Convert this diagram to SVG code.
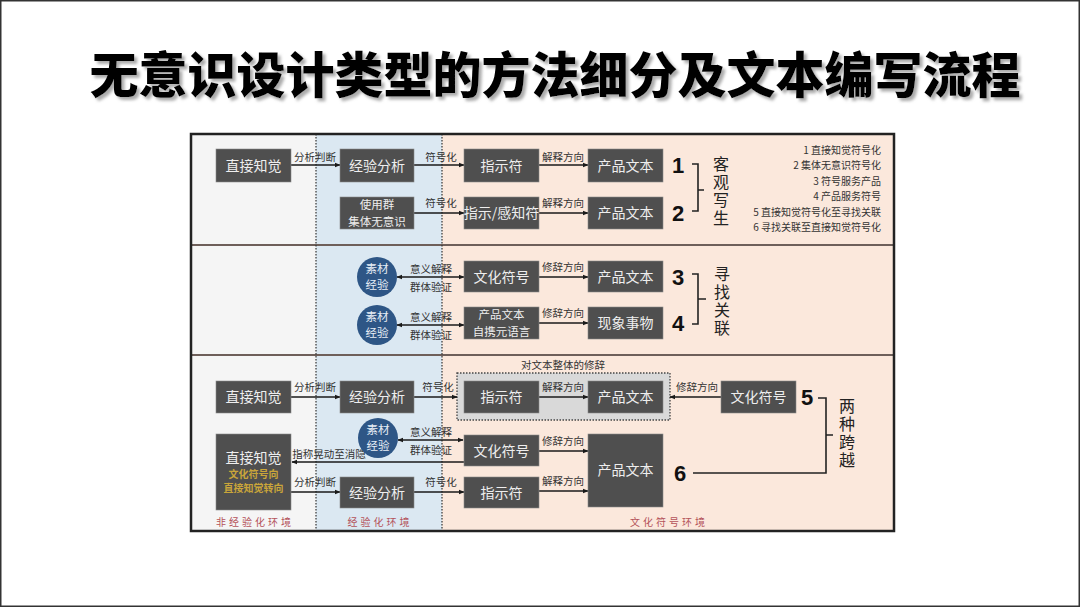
<svg xmlns="http://www.w3.org/2000/svg" width="1080" height="607" viewBox="0 0 1080 607">
<defs>
<marker id="ah" viewBox="0 0 10 10" refX="9" refY="5" markerWidth="6" markerHeight="6" orient="auto-start-reverse" markerUnits="userSpaceOnUse">
<path d="M0,1 L10,5 L0,9 z" fill="#1a1a1a"/>
</marker>
<filter id="sh" x="-5%" y="-20%" width="110%" height="150%">
<feDropShadow dx="3" dy="3" stdDeviation="1.5" flood-color="#888" flood-opacity="0.7"/>
</filter>
<style>
.box{fill:#4f4f4f;stroke:#8a8a8a;stroke-width:0.6}
.bt{font-family:"Noto Sans CJK SC","Noto Sans",sans-serif;font-size:14px;fill:#eeeeee;text-anchor:middle}
.bs{font-family:"Noto Sans CJK SC","Noto Sans",sans-serif;font-size:11.5px;fill:#eeeeee;text-anchor:middle}
.lb{font-family:"Noto Sans CJK SC","Noto Sans",sans-serif;font-size:10.5px;fill:#333;text-anchor:middle}
.lg{font-family:"Noto Sans CJK SC","Noto Sans",sans-serif;font-size:10px;fill:#333;text-anchor:end}
.num{font-family:"Liberation Sans",Arial,sans-serif;font-size:22px;font-weight:bold;fill:#111;text-anchor:middle}
.vt{font-family:"Noto Sans CJK SC","Noto Sans",sans-serif;font-size:16px;fill:#222;writing-mode:vertical-rl;letter-spacing:2px;text-anchor:start}
.env{font-family:"Noto Sans CJK SC","Noto Sans",sans-serif;font-size:10px;fill:#b4525a;text-anchor:middle;letter-spacing:3px}
.c{stroke:#1a1a1a;stroke-width:1.4;fill:none}
.a{marker-end:url(#ah)}
.aa{marker-end:url(#ah);marker-start:url(#ah)}
.circ{fill:#2e5686}
.ct{font-family:"Noto Sans CJK SC","Noto Sans",sans-serif;font-size:11.5px;fill:#e8eef6;text-anchor:middle}
.br{stroke:#222;stroke-width:1.6;fill:none}
.gold{font-family:"Noto Sans CJK SC","Noto Sans",sans-serif;font-size:10px;font-weight:bold;fill:#c9a53a;text-anchor:middle}
</style>
</defs>
<rect x="0" y="0" width="1080" height="607" fill="#ffffff"/>
<rect x="0.75" y="0.75" width="1078.5" height="605.5" fill="none" stroke="#333" stroke-width="1.5"/>
<text x="555" y="93" filter="url(#sh)" font-family="'Noto Sans CJK SC','Noto Sans',sans-serif" font-size="49" font-weight="900" fill="#000" text-anchor="middle">无意识设计类型的方法细分及文本编写流程</text>

<g id="background">
<rect x="191" y="134" width="125" height="397" fill="#f5f5f5"/>
<rect x="316" y="134" width="126" height="397" fill="#dbe8f2"/>
<rect x="442" y="134" width="452" height="397" fill="#fbe8dc"/>
<line x1="191" y1="245" x2="894" y2="245" stroke="#6e5f5a" stroke-width="2"/>
<line x1="191" y1="355" x2="894" y2="355" stroke="#6e5f5a" stroke-width="2"/>
<line x1="316" y1="134" x2="316" y2="531" stroke="#333" stroke-width="1.2" stroke-dasharray="1.5 1.5"/>
<line x1="442" y1="134" x2="442" y2="531" stroke="#333" stroke-width="1.2" stroke-dasharray="1.5 1.5"/>
<rect x="191" y="134" width="703" height="397" fill="none" stroke="#222" stroke-width="2.5"/>
<text class="env" x="255" y="526">非经验化环境</text>
<text class="env" x="380" y="526">经验化环境</text>
<text class="env" x="669" y="526">文化符号环境</text>
</g>

<g id="legend">
<text class="lg" x="881" y="154">1 直接知觉符号化</text>
<text class="lg" x="881" y="169.4">2 集体无意识符号化</text>
<text class="lg" x="881" y="184.8">3 符号服务产品</text>
<text class="lg" x="881" y="200.2">4 产品服务符号</text>
<text class="lg" x="881" y="215.6">5 直接知觉符号化至寻找关联</text>
<text class="lg" x="881" y="231">6 寻找关联至直接知觉符号化</text>
</g>

<g id="group-box">
<rect x="457" y="373" width="213" height="47" fill="#d9d9d9" stroke="#444" stroke-width="1.3" stroke-dasharray="1.5 1.5"/>
<text class="lb" x="563" y="369">对文本整体的修辞</text>
</g>

<g id="connectors">
<line class="c a" x1="291" y1="165" x2="340" y2="165"/>
<text class="lb" x="315" y="161">分析判断</text>
<line class="c a" x1="414" y1="165" x2="464" y2="165"/>
<text class="lb" x="441" y="161">符号化</text>
<line class="c a" x1="539" y1="165" x2="588" y2="165"/>
<text class="lb" x="563" y="161">解释方向</text>
<line class="c a" x1="414" y1="213" x2="464" y2="213"/>
<text class="lb" x="441" y="207">符号化</text>
<line class="c a" x1="539" y1="213" x2="588" y2="213"/>
<text class="lb" x="563" y="207">解释方向</text>
<line class="c aa" x1="397" y1="277" x2="464" y2="277"/>
<text class="lb" x="431" y="273">意义解释</text>
<text class="lb" x="431" y="291">群体验证</text>
<line class="c a" x1="539" y1="277" x2="588" y2="277"/>
<text class="lb" x="563" y="271">修辞方向</text>
<line class="c aa" x1="397" y1="325" x2="464" y2="325"/>
<text class="lb" x="431" y="321">意义解释</text>
<text class="lb" x="431" y="339">群体验证</text>
<line class="c a" x1="539" y1="323" x2="588" y2="323"/>
<text class="lb" x="563" y="317">修辞方向</text>
<line class="c a" x1="291" y1="397" x2="340" y2="397"/>
<text class="lb" x="315" y="391">分析判断</text>
<line class="c a" x1="414" y1="397" x2="457" y2="397"/>
<text class="lb" x="438" y="391">符号化</text>
<line class="c a" x1="539" y1="397" x2="588" y2="397"/>
<text class="lb" x="563" y="391">解释方向</text>
<line class="c a" x1="721" y1="397" x2="670" y2="397"/>
<text class="lb" x="697" y="391">修辞方向</text>
<line class="c aa" x1="398" y1="440" x2="463" y2="440"/>
<text class="lb" x="431" y="436">意义解释</text>
<text class="lb" x="431" y="454">群体验证</text>
<line class="c a" x1="464" y1="462" x2="292" y2="462"/>
<text class="lb" x="329" y="458" font-size="9.5">指称晃动至消隐</text>
<line class="c a" x1="539" y1="451" x2="588" y2="451"/>
<text class="lb" x="563" y="445">修辞方向</text>
<line class="c a" x1="291" y1="492" x2="340" y2="492"/>
<text class="lb" x="315" y="486">分析判断</text>
<line class="c a" x1="414" y1="492" x2="464" y2="492"/>
<text class="lb" x="441" y="486">符号化</text>
<line class="c a" x1="539" y1="491" x2="588" y2="491"/>
<text class="lb" x="563" y="485">解释方向</text>
<path class="br" d="M692,164 H698 V211 H692 M698,190 H704"/>
<path class="br" d="M692,274 H698 V324 H692 M698,299 H706"/>
<path class="br" d="M818,398 H826 V473 H693 M826,435 H833"/>
</g>

<g id="labels">
<text class="num" x="678" y="173">1</text>
<text class="num" x="678" y="221">2</text>
<text class="num" x="678" y="285">3</text>
<text class="num" x="678" y="331">4</text>
<text class="num" x="807" y="405">5</text>
<text class="num" x="680" y="481">6</text>
<text class="vt" x="721" y="156">客观写生</text>
<text class="vt" x="722" y="266">寻找关联</text>
<text class="vt" x="847" y="398">两种跨越</text>
</g>

<g id="n-zhijie1"><rect class="box" x="216" y="149" width="75" height="33"/><text class="bt" x="253.5" y="170.5">直接知觉</text></g>
<g id="n-jingyan1"><rect class="box" x="340" y="149" width="74" height="33"/><text class="bt" x="377" y="170.5">经验分析</text></g>
<g id="n-shiyong"><rect class="box" x="340" y="197" width="74" height="32"/><text class="bs" x="377" y="209.3"><tspan x="377">使用群</tspan><tspan x="377" dy="16.7">集体无意识</tspan></text></g>
<g id="n-zhishi1"><rect class="box" x="464" y="149" width="75" height="33"/><text class="bt" x="501.5" y="170.5">指示符</text></g>
<g id="n-chanpin1"><rect class="box" x="588" y="149" width="75" height="33"/><text class="bt" x="625.5" y="170.5">产品文本</text></g>
<g id="n-zhishi2"><rect class="box" x="464" y="197" width="75" height="32"/><text class="bt" x="501.5" y="217.5" font-size="12">指示/感知符</text></g>
<g id="n-chanpin2"><rect class="box" x="588" y="197" width="75" height="32"/><text class="bt" x="625.5" y="218">产品文本</text></g>

<g id="n-sucai1"><circle class="circ" cx="377" cy="277" r="20"/><text class="ct" x="377" y="272.7"><tspan x="377">素材</tspan><tspan x="377" dy="16.7">经验</tspan></text></g>
<g id="n-sucai2"><circle class="circ" cx="377" cy="325" r="20"/><text class="ct" x="377" y="320.7"><tspan x="377">素材</tspan><tspan x="377" dy="16.7">经验</tspan></text></g>
<g id="n-wenhua1"><rect class="box" x="464" y="261" width="75" height="31"/><text class="bt" x="501.5" y="281.5">文化符号</text></g>
<g id="n-chanpin3"><rect class="box" x="588" y="261" width="75" height="31"/><text class="bt" x="625.5" y="281.5">产品文本</text></g>
<g id="n-zixie"><rect class="box" x="464" y="307" width="75" height="32"/><text class="bs" x="501.5" y="319.3"><tspan x="501.5">产品文本</tspan><tspan x="501.5" dy="16.7">自携元语言</tspan></text></g>
<g id="n-xianxiang"><rect class="box" x="588" y="307" width="75" height="32"/><text class="bt" x="625.5" y="328">现象事物</text></g>

<g id="n-zhijie2"><rect class="box" x="216" y="381" width="75" height="32"/><text class="bt" x="253.5" y="402">直接知觉</text></g>
<g id="n-jingyan2"><rect class="box" x="340" y="381" width="74" height="32"/><text class="bt" x="377" y="402">经验分析</text></g>
<g id="n-zhishi3"><rect class="box" x="464" y="381" width="75" height="32"/><text class="bt" x="501.5" y="402">指示符</text></g>
<g id="n-chanpin4"><rect class="box" x="588" y="381" width="75" height="32"/><text class="bt" x="625.5" y="402">产品文本</text></g>
<g id="n-wenhua2"><rect class="box" x="721" y="381" width="75" height="32"/><text class="bt" x="758.5" y="402">文化符号</text></g>
<g id="n-sucai3"><circle class="circ" cx="378" cy="438" r="20"/><text class="ct" x="378" y="433.7"><tspan x="378">素材</tspan><tspan x="378" dy="16.7">经验</tspan></text></g>
<g id="n-zhijie3"><rect class="box" x="216" y="434" width="75" height="76"/><text class="bt" x="253.5" y="463">直接知觉</text><text class="gold" x="253.5" y="478">文化符号向</text><text class="gold" x="253.5" y="492">直接知觉转向</text></g>
<g id="n-wenhua3"><rect class="box" x="464" y="435" width="75" height="31"/><text class="bt" x="501.5" y="455.5">文化符号</text></g>
<g id="n-chanpin5"><rect class="box" x="588" y="434" width="75" height="73"/><text class="bt" x="625.5" y="475">产品文本</text></g>
<g id="n-jingyan3"><rect class="box" x="340" y="477" width="74" height="31"/><text class="bt" x="377" y="497.5">经验分析</text></g>
<g id="n-zhishi4"><rect class="box" x="464" y="477" width="75" height="31"/><text class="bt" x="501.5" y="497.5">指示符</text></g>
</svg>
